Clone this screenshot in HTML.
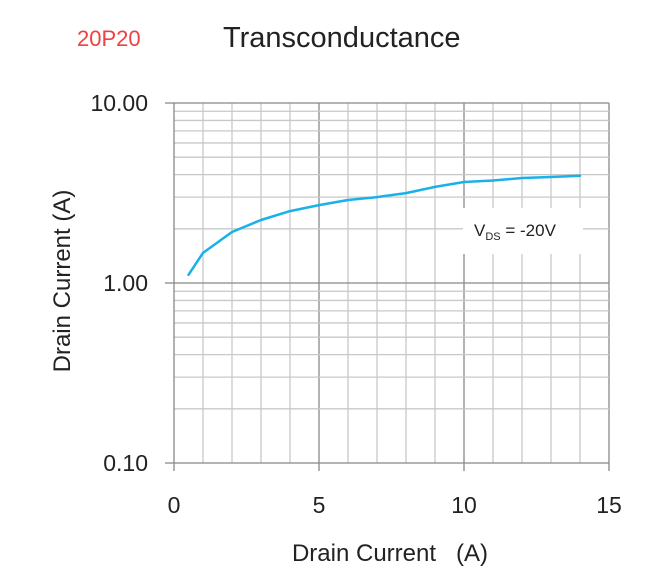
<!DOCTYPE html>
<html><head><meta charset="utf-8">
<style>
html,body{margin:0;padding:0;background:#fff;width:664px;height:582px;overflow:hidden}
text{font-family:"Liberation Sans",sans-serif}
</style></head>
<body>
<svg id="chart" width="664" height="582" xmlns="http://www.w3.org/2000/svg">
<text x="77" y="46" font-size="22" fill="#f04040">20P20</text>
<text x="223" y="47" font-size="29" fill="#222">Transconductance</text>
<g id="grid"></g>
<g id="axes"></g>
<rect x="463" y="208" width="120" height="46" fill="#fff"/>
<text x="474" y="236" font-size="17" fill="#222">V<tspan font-size="11" dy="4">DS</tspan><tspan dy="-4"> = -20V</tspan></text>
<path id="curve" fill="none" stroke="#1ab0ea" stroke-width="2.5" stroke-linejoin="round" stroke-linecap="round"/>
<text transform="translate(70,281) rotate(-90)" text-anchor="middle" font-size="24" fill="#222">Drain Current (A)</text>
<text x="390" y="561" text-anchor="middle" font-size="24" fill="#222" xml:space="preserve">Drain Current   (A)</text>
</svg>
<script>
const xValues=[0.5,1,2,3,4,5,6,7,8,9,10,11,12,13,14];
const yValues=[1.11,1.47,1.92,2.24,2.51,2.71,2.89,3.0,3.16,3.42,3.64,3.71,3.83,3.88,3.94];
const xTicks=[0,5,10,15];
const yTicks=[0.1,1,10];
const yTickLabels=["0.10","1.00","10.00"];
const X0=174,X1=609,Y0=463,Y1=103;
function sx(v){return X0+(v-0)/(15-0)*(X1-X0);}
function sy(v){return Y0-(Math.log10(v)-Math.log10(0.1))/2*(Y0-Y1);}
const NS="http://www.w3.org/2000/svg";
const grid=document.getElementById('grid'),axes=document.getElementById('axes');
function line(p,x1,y1,x2,y2,c,w){const l=document.createElementNS(NS,'line');
l.setAttribute('x1',x1);l.setAttribute('y1',y1);l.setAttribute('x2',x2);l.setAttribute('y2',y2);
l.setAttribute('stroke',c);l.setAttribute('stroke-width',w);p.appendChild(l);return l;}
function txt(p,x,y,s,a){const t=document.createElementNS(NS,'text');t.setAttribute('x',x);t.setAttribute('y',y);
t.setAttribute('font-size','23');t.setAttribute('fill','#222');t.setAttribute('text-anchor',a);t.textContent=s;p.appendChild(t);return t;}
for(let i=1;i<=15;i++){
  const major=i%5===0;
  const l=line(grid,sx(i),Y1,sx(i),major?Y0+8:Y0,major?'#888':'#c8c8c8',1.3);
  
  
}
for(let d=-1;d<1;d++){for(let m=1;m<10;m++){
  const v=m*Math.pow(10,d);const y=sy(v);
  const l=line(grid,m===1?X0-9:X0,y,X1,y,m===1?'#888':'#c8c8c8',1.3);
  
  
}}
{const l=line(grid,X0-9,sy(10),X1,sy(10),'#888',1.3);

}
{const l=line(axes,X0,Y1,X0,Y0+8,'#888',1.3);

}
xTicks.forEach(v=>{const t=txt(axes,sx(v),513,String(v),'middle');

});
yTicks.forEach((v,i)=>{const t=txt(axes,148,sy(v)+8,yTickLabels[i],'end');

});
let d='';
xValues.forEach((x,i)=>{d+=(i?' L':'M')+sx(x).toFixed(1)+' '+sy(yValues[i]).toFixed(1);});
document.getElementById('curve').setAttribute('d',d);
</script>
</body></html>
